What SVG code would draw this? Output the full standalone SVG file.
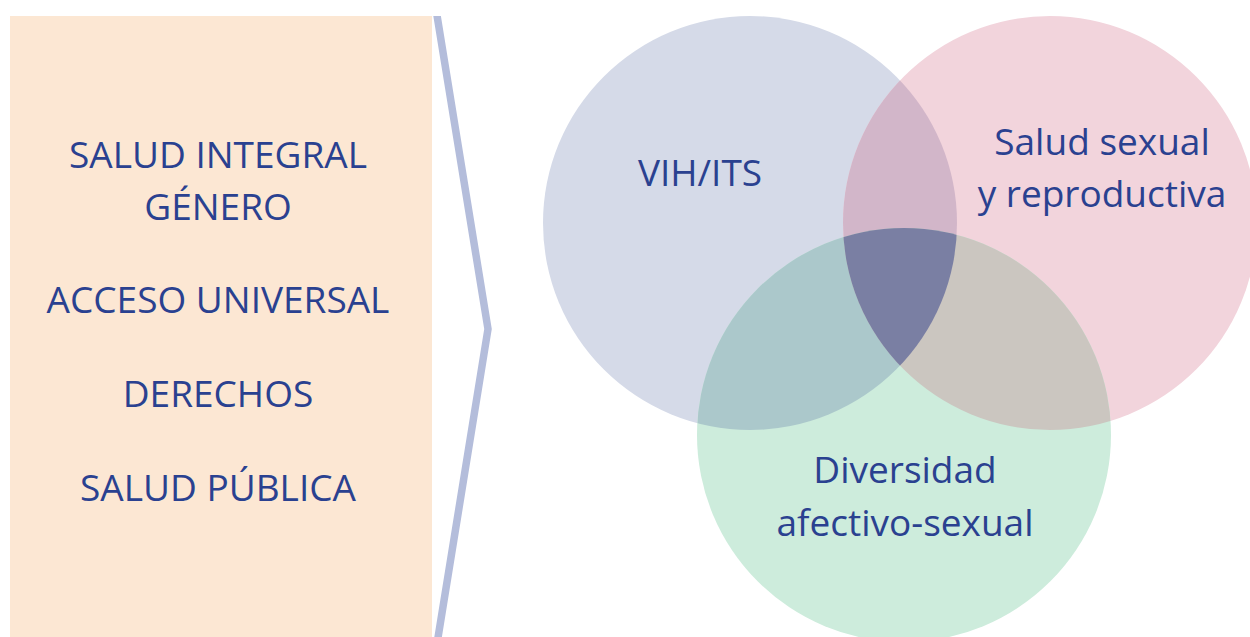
<svg xmlns="http://www.w3.org/2000/svg" width="1250" height="637" viewBox="0 0 1250 637">
  <style>
    .t { font-family: "Open Sans", "Liberation Sans", sans-serif; font-size: 37px; fill: #2a4190; text-anchor: middle; }
  </style>
  <defs>
    <clipPath id="cBlue"><circle cx="750" cy="223" r="207"/></clipPath>
    <clipPath id="cPink"><circle cx="1050" cy="223" r="207"/></clipPath>
    <clipPath id="cGreen"><circle cx="904" cy="435" r="207"/></clipPath>
    <clipPath id="cPage"><rect x="0" y="16" width="1250" height="621"/></clipPath>
  </defs>
  <rect width="1250" height="637" fill="#ffffff"/>

  <g id="panel">
    <rect x="10" y="16" width="422" height="621" fill="#fce7d3"/>
    <text class="t" x="218" y="168">SALUD INTEGRAL</text>
    <text class="t" x="218" y="220">GÉNERO</text>
    <text class="t" x="218" y="313">ACCESO UNIVERSAL</text>
    <text class="t" x="218" y="407">DERECHOS</text>
    <text class="t" x="218" y="501">SALUD PÚBLICA</text>
  </g>

  <g id="chevron" clip-path="url(#cPage)">
    <polyline points="434.5,0 488,329 436,650" fill="none" stroke="#b4bddb" stroke-width="7.5" stroke-linejoin="miter"/>
  </g>

  <g id="venn">
    <circle id="vih" cx="750" cy="223" r="207" fill="#d5dae8"/>
    <circle id="ssr" cx="1050" cy="223" r="207" fill="#f2d4dc"/>
    <circle id="diversidad" cx="904" cy="435" r="207" fill="#cdecdc"/>
    <g clip-path="url(#cBlue)">
      <circle cx="1050" cy="223" r="207" fill="#d2b6c9"/>
      <circle cx="904" cy="435" r="207" fill="#abc8cb"/>
    </g>
    <g clip-path="url(#cPink)">
      <circle cx="904" cy="435" r="207" fill="#cbc6c0"/>
    </g>
    <g clip-path="url(#cBlue)">
      <g clip-path="url(#cPink)">
        <circle cx="904" cy="435" r="207" fill="#7a7fa3"/>
      </g>
    </g>
  </g>

  <g id="labels">
    <text class="t" x="700" y="186">VIH/ITS</text>
    <text class="t" x="1102" y="155">Salud sexual</text>
    <text class="t" x="1102" y="207">y reproductiva</text>
    <text class="t" x="905" y="483">Diversidad</text>
    <text class="t" x="905" y="536">afectivo-sexual</text>
  </g>
</svg>
